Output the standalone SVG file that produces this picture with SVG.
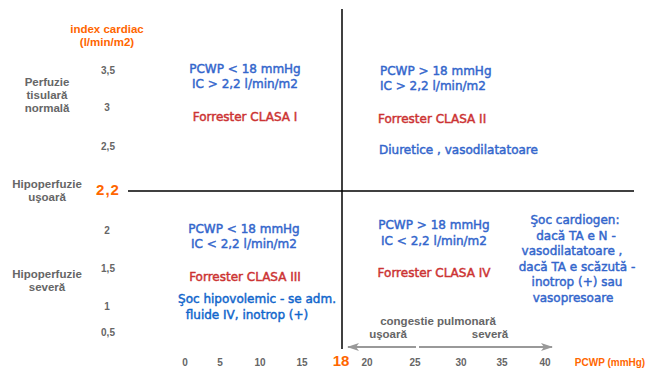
<svg xmlns="http://www.w3.org/2000/svg" width="658" height="382" viewBox="0 0 658 382">
<style>
.ax{font-family:"Liberation Sans",Arial,sans-serif;font-weight:bold;font-size:10px;fill:#666;text-anchor:middle}
.lb{font-family:"Liberation Sans",Arial,sans-serif;font-weight:bold;font-size:11.5px;fill:#666;text-anchor:middle}
.or{font-family:"Liberation Sans",Arial,sans-serif;font-weight:bold;fill:#ff6600;text-anchor:middle}
.bl{font-family:"DejaVu Sans",Verdana,sans-serif;font-size:12px;fill:#3366cc;stroke:#3366cc;stroke-width:0.45}
.b2{fill:#1166cc;stroke:#1166cc}
.rd{font-family:"DejaVu Sans",Verdana,sans-serif;font-size:12px;fill:#cc3333;stroke:#cc3333;stroke-width:0.45}
.c{text-anchor:middle}
.arr{stroke:#999;stroke-width:2;fill:none}
</style>
<defs>
<marker id="ah" viewBox="0 0 12 8" refX="11" refY="4" markerWidth="12" markerHeight="8" markerUnits="userSpaceOnUse" orient="auto-start-reverse">
<path d="M0,0 L12,4 L0,8 L3,4 Z" fill="#999"/>
</marker>
</defs>
<rect width="658" height="382" fill="#fff"/>
<g id="axes">
<line x1="342" y1="9" x2="342" y2="349" stroke="#000" stroke-width="1.5"/>
<line x1="128" y1="191" x2="634" y2="191" stroke="#000" stroke-width="1.5"/>
</g>
<g id="y-axis">
<text class="or" x="107" y="33" font-size="11.5">index cardiac</text>
<text class="or" x="107" y="46" font-size="11.5">(l/min/m2)</text>
<text class="ax" x="108" y="74">3,5</text>
<text class="ax" x="107" y="111">3</text>
<text class="ax" x="108" y="150">2,5</text>
<text class="or" x="108" y="195" font-size="15" letter-spacing="1">2,2</text>
<text class="ax" x="107" y="234">2</text>
<text class="ax" x="108" y="272">1,5</text>
<text class="ax" x="107" y="310">1</text>
<text class="ax" x="108" y="336">0,5</text>
</g>
<g id="y-labels">
<text class="lb" x="47" y="86">Perfuzie</text>
<text class="lb" x="47" y="99">tisulară</text>
<text class="lb" x="47" y="112">normală</text>
<text class="lb" x="47" y="188">Hipoperfuzie</text>
<text class="lb" x="47" y="201">uşoară</text>
<text class="lb" x="47" y="278">Hipoperfuzie</text>
<text class="lb" x="47" y="291">severă</text>
</g>
<g id="x-axis">
<text class="ax" x="185" y="366">0</text>
<text class="ax" x="220" y="366">5</text>
<text class="ax" x="260" y="366">10</text>
<text class="ax" x="302" y="366">15</text>
<text class="or" x="341" y="366" font-size="15">18</text>
<text class="ax" x="367" y="366">20</text>
<text class="ax" x="415" y="366">25</text>
<text class="ax" x="461" y="366">30</text>
<text class="ax" x="502" y="366">35</text>
<text class="ax" x="545" y="366">40</text>
<text class="or" x="610" y="366" font-size="10">PCWP (mmHg)</text>
</g>
<g id="connectors">
<line class="arr" x1="416" y1="347" x2="348" y2="347" marker-end="url(#ah)"/>
<line class="arr" x1="419" y1="347" x2="552" y2="347" marker-end="url(#ah)"/>
</g>
<g id="congestion">
<text class="lb" x="438" y="325" font-size="11">congestie pulmonară</text>
<text class="lb" x="388" y="338" font-size="11">uşoară</text>
<text class="lb" x="490" y="338" font-size="11">severă</text>
</g>
<g id="q1">
<text class="bl c" x="245" y="73">PCWP &lt; 18 mmHg</text>
<text class="bl c" x="245" y="88">IC &gt; 2,2 l/min/m2</text>
<text class="rd c" x="245" y="121">Forrester CLASA I</text>
</g>
<g id="q2">
<text class="bl" x="380" y="75">PCWP &gt; 18 mmHg</text>
<text class="bl" x="380" y="90">IC &gt; 2,2 l/min/m2</text>
<text class="rd" x="378" y="123">Forrester CLASA II</text>
<text class="bl" x="379" y="154">Diuretice , vasodilatatoare</text>
</g>
<g id="q3">
<text class="bl c" x="244" y="233">PCWP &lt; 18 mmHg</text>
<text class="bl c" x="244" y="248">IC &lt; 2,2 l/min/m2</text>
<text class="rd c" x="245" y="281">Forrester CLASA III</text>
<text class="bl b2 c" x="257" y="303">Şoc hipovolemic - se adm.</text>
<text class="bl b2 c" x="247" y="319">fluide IV, inotrop (+)</text>
</g>
<g id="q4">
<text class="bl c" x="434" y="229">PCWP &gt; 18 mmHg</text>
<text class="bl c" x="434" y="245">IC &lt; 2,2 l/min/m2</text>
<text class="rd c" x="434" y="277">Forrester CLASA IV</text>
</g>
<g id="q4-note">
<text class="bl c" x="575" y="224">Şoc cardiogen:</text>
<text class="bl c" x="576" y="239.5">dacă TA e N -</text>
<text class="bl c" x="572" y="255">vasodilatatoare ,</text>
<text class="bl c" x="577" y="270.5">dacă TA e scăzută -</text>
<text class="bl c" x="577" y="286">inotrop (+) sau</text>
<text class="bl c" x="573" y="302">vasopresoare</text>
</g>
</svg>
